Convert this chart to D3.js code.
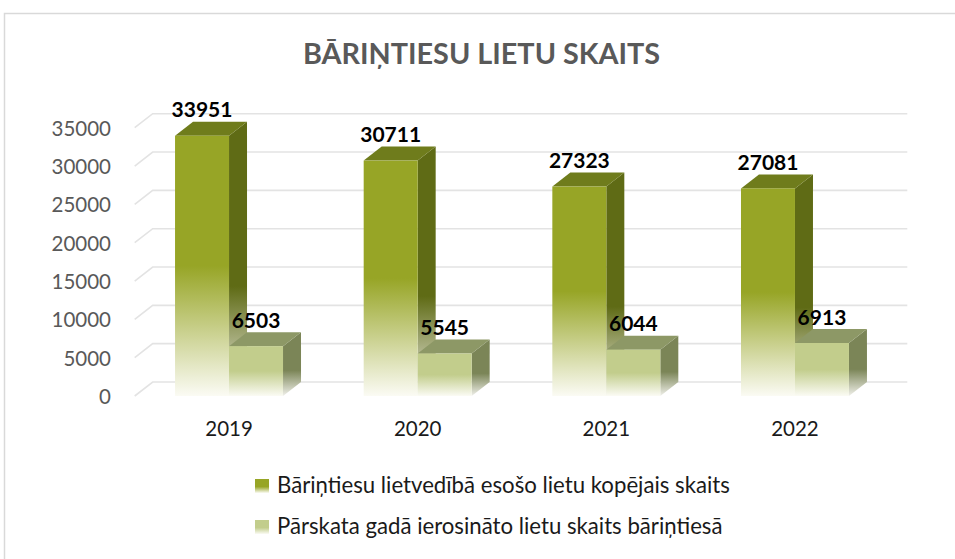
<!DOCTYPE html>
<html>
<head>
<meta charset="utf-8">
<script src="https://cdn.jsdelivr.net/npm/d3@7/dist/d3.min.js"></script>
<style>
  html, body { margin: 0; padding: 0; background: #ffffff; }
  svg { display: block; font-family: Lato, "Open Sans", "DejaVu Sans", sans-serif; }
</style>
</head>
<body>
<svg id="chart" width="955" height="559"></svg>
<script>
// Data
const years = ["2019", "2020", "2021", "2022"];
const totalCases = [33951, 30711, 27323, 27081];
const newCases = [6503, 5545, 6044, 6913];
const seriesNames = [
  "Bāriņtiesu lietvedībā esošo lietu kopējais skaits",
  "Pārskata gadā ierosināto lietu skaits bāriņtiesā"
];
const yTicks = [0, 5000, 10000, 15000, 20000, 25000, 30000, 35000];
const title = "BĀRIŅTIESU LIETU SKAITS";

// Styling per series: front, side, top faces
const palette = [
  { front: "#97a526", side: "#5f6b15", top: "#6f7c1c" },
  { front: "#c2cd8c", side: "#7b8557", top: "#8d9866" }
];

const svg = d3.select("#chart");
const W = 955, H = 559;

// Outer chart frame
svg.append("rect")
  .attr("x", 4.5).attr("y", 13.5)
  .attr("width", W + 10).attr("height", H + 10)
  .attr("fill", "#ffffff")
  .attr("stroke", "#d9d9d9").attr("stroke-width", 1.5);

// 3D projection: depth offset of the back wall
const DX = 18, DY = -14;

const y = d3.scaleLinear().domain([0, 35000]).range([396, 127.7]);
const x = d3.scaleBand().domain(years).range([134.7, 889.3]).paddingInner(0).paddingOuter(0);
const bw = x.bandwidth() * 0.2862;

// Gradients
const defs = svg.append("defs");
function vGrad(id, color, fadeStart, endColor) {
  const g = defs.append("linearGradient").attr("id", id)
    .attr("x1", 0).attr("y1", 0).attr("x2", 0).attr("y2", 1);
  g.append("stop").attr("offset", 0).attr("stop-color", color);
  g.append("stop").attr("offset", fadeStart).attr("stop-color", color);
  g.append("stop").attr("offset", 1).attr("stop-color", endColor);
}
palette.forEach((p, i) => {
  vGrad("front" + i, p.front, 0.5, "#fbfbf4");
  vGrad("side" + i, p.side, 0.6, "#f0f0ea");
  vGrad("leg" + i, p.front, 0.55, "#fbfbf4");
});

// Gridlines on the back wall and side wall
const grid = svg.append("g").attr("fill", "none")
  .attr("stroke", "#e3e3e3").attr("stroke-width", 1.6);
const x0 = x.range()[0], x1 = x.range()[1];
yTicks.forEach(v => {
  const yy = y(v);
  grid.append("polyline")
    .attr("points", [[x0, yy], [x0 + DX, yy + DY], [x1 + DX, yy + DY]].map(p => p.join(",")).join(" "));
});

// Y axis labels
const yAxis = svg.append("g")
  .attr("transform", "translate(111,1)")
  .call(d3.axisLeft(y).tickValues(yTicks).tickSize(0).tickPadding(0).tickFormat(d3.format("d")));
yAxis.select(".domain").remove();
yAxis.selectAll("text")
  .attr("font-family", "Lato, 'Open Sans', sans-serif")
  .attr("font-size", 20.5).attr("fill", "#595959");

// X axis labels
const xAxis = svg.append("g")
  .attr("transform", "translate(0,436)")
  .call(d3.axisBottom(x).tickSize(0).tickPadding(0));
xAxis.select(".domain").remove();
xAxis.selectAll("text")
  .attr("y", 0).attr("dy", 0)
  .attr("font-family", "Lato, 'Open Sans', sans-serif")
  .attr("font-size", 20.5).attr("fill", "#1a1a1a");

// Bars (3D columns)
const bars = svg.append("g");
const labels = svg.append("g");
years.forEach((yr, k) => {
  const center = x(yr) + x.bandwidth() / 2;
  [totalCases[k], newCases[k]].forEach((v, i) => {
    const bx = center - bw + i * bw;
    const yt = y(v), yb = y(0);
    const g = bars.append("g");
    g.append("polygon")
      .attr("points", [[bx + bw, yt], [bx + bw + DX, yt + DY], [bx + bw + DX, yb + DY], [bx + bw, yb]].map(p => p.join(",")).join(" "))
      .attr("fill", `url(#side${i})`);
    g.append("polygon")
      .attr("points", [[bx, yt], [bx + DX, yt + DY], [bx + bw + DX, yt + DY], [bx + bw, yt]].map(p => p.join(",")).join(" "))
      .attr("fill", palette[i].top);
    g.append("rect")
      .attr("x", bx).attr("y", yt)
      .attr("width", bw).attr("height", yb - yt)
      .attr("fill", `url(#front${i})`);
    labels.append("text")
      .attr("x", bx + bw / 2).attr("y", yt + DY - 4.5)
      .attr("text-anchor", "middle")
      .attr("font-size", 21).attr("font-weight", "bold")
      .attr("fill", "#000000")
      .text(v);
  });
});

// Title
svg.append("text")
  .attr("x", 481.5).attr("y", 64)
  .attr("text-anchor", "middle")
  .attr("font-size", 28.8).attr("font-weight", "bold")
  .attr("fill", "#595959")
  .text(title);

// Legend
const legend = svg.append("g");
const legendRows = [493, 534];
seriesNames.forEach((name, i) => {
  legend.append("rect")
    .attr("x", 255).attr("y", legendRows[i] - 14)
    .attr("width", 14).attr("height", 14)
    .attr("fill", `url(#leg${i})`);
  legend.append("text")
    .attr("x", 277).attr("y", legendRows[i])
    .attr("font-size", 22.2).attr("fill", "#1a1a1a")
    .text(name);
});
</script>
</body>
</html>
